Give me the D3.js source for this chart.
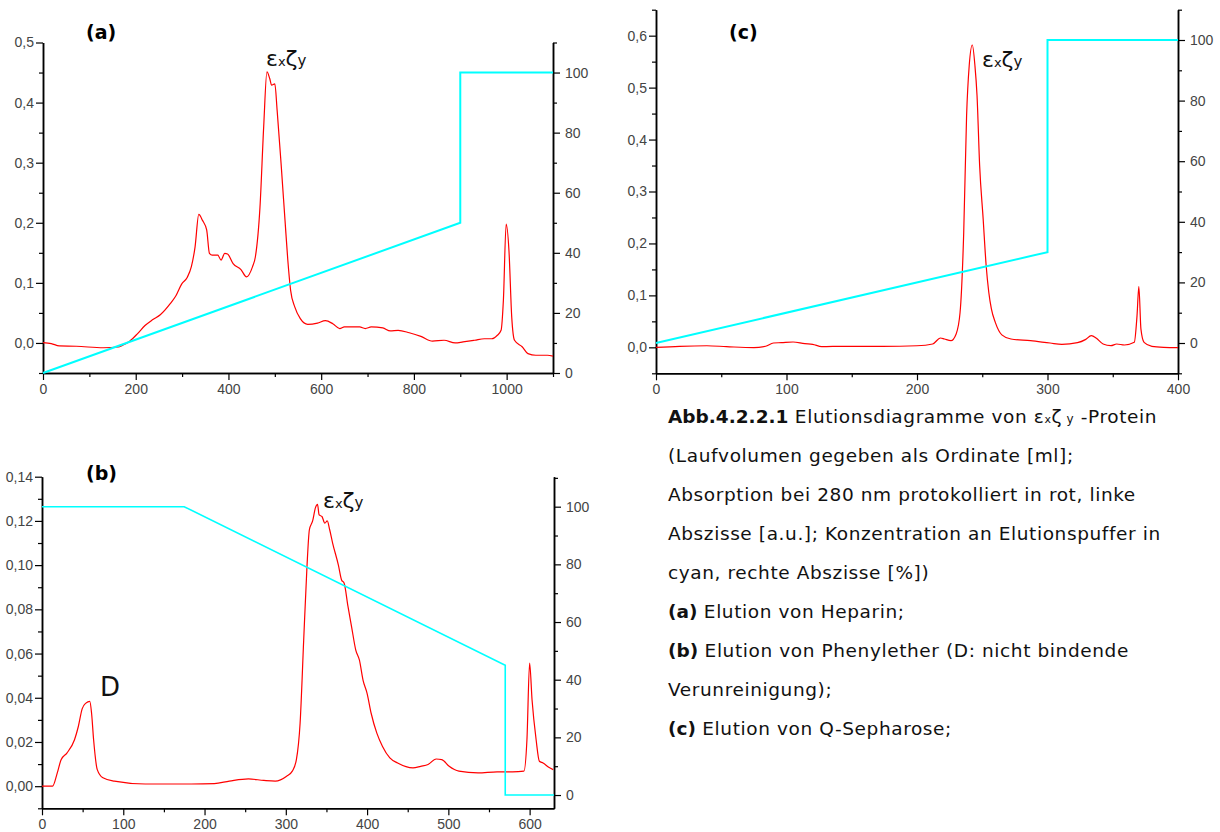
<!DOCTYPE html>
<html>
<head>
<meta charset="utf-8">
<script src="https://cdn.jsdelivr.net/npm/d3@7"></script>
<style>
  body { margin: 0; background: #fff; }
  svg { font-family: "DejaVu Sans", sans-serif; }
  .tick text { fill: #444; font-size: 14px; font-family: "Liberation Sans", sans-serif; }
  .domain { stroke: #000; stroke-width: 1.5; }
  .tick line { stroke: #000; stroke-width: 1.2; }
</style>
</head>
<body>
<svg width="1220" height="832"></svg>
<script>
// (a) Heparin
const aVol = [0, 18, 35, 72, 130, 163, 171, 187, 204, 220, 237, 253, 274, 287, 299, 311, 320, 328, 336, 344, 353, 359, 365, 377, 384, 392, 398, 410, 427, 439, 452, 458, 468, 476, 483, 489, 493, 500, 505, 514, 522, 528, 534, 543, 555, 571, 592, 609, 625, 640, 650, 683, 695, 708, 733, 749, 766, 790, 815, 840, 865, 889, 906, 931, 952, 968, 980, 988, 993, 999, 1005, 1011, 1017, 1034, 1046, 1063, 1088, 1100];
const aAbs = [0.0005, -0.001, -0.005, -0.0055, -0.008, -0.0067, -0.004, 0.003, 0.0155, 0.029, 0.039, 0.047, 0.065, 0.079, 0.098, 0.109, 0.127, 0.16, 0.214, 0.204, 0.188, 0.149, 0.146, 0.146, 0.138, 0.149, 0.148, 0.132, 0.122, 0.110, 0.127, 0.143, 0.226, 0.36, 0.451, 0.44, 0.429, 0.431, 0.387, 0.293, 0.204, 0.138, 0.088, 0.06, 0.0405, 0.031, 0.033, 0.037, 0.032, 0.024, 0.0266, 0.0266, 0.024, 0.0266, 0.025, 0.02, 0.021, 0.017, 0.011, 0.003, 0.0045, 0, 0.0017, 0.0045, 0.007, 0.007, 0.0128, 0.021, 0.071, 0.198, 0.154, 0.043, 0.0044, -0.0067, -0.0178, -0.0205, -0.0205, -0.022];
const aGradVol = [0, 900, 900, 1100];
const aGradPct = [0, 50, 100, 100];

// (b) Phenylether
const bVol = [0, 13, 18.8, 23.5, 30.6, 40, 44.7, 49.4, 54, 58.8, 61, 63.5, 68, 75, 89, 127, 183.5, 212, 230.6, 254, 273, 287, 301, 308, 313, 317.6, 322, 326, 329, 333, 336.5, 339, 341, 344.5, 348, 351, 354, 357.6, 364.7, 368.6, 371.8, 376.5, 381, 386, 390.6, 395, 400, 405, 412, 419, 428, 437.6, 456.5, 466, 475, 485, 492, 501, 513, 536.5, 560, 579, 593, 596.7, 600, 603, 608, 612, 616.5, 623.5, 629];
const bAbs = [0, 0, 0.006, 0.012, 0.015, 0.021, 0.027, 0.035, 0.0376, 0.0384, 0.033, 0.021, 0.0075, 0.0038, 0.0023, 0.001, 0.001, 0.0012, 0.0023, 0.0033, 0.0026, 0.0023, 0.0045, 0.0068, 0.012, 0.0286, 0.066, 0.099, 0.116, 0.12, 0.126, 0.1275, 0.1227, 0.122, 0.119, 0.120, 0.116, 0.110, 0.100, 0.0933, 0.0918, 0.0813, 0.072, 0.0617, 0.057, 0.048, 0.042, 0.033, 0.024, 0.018, 0.0128, 0.0105, 0.0083, 0.009, 0.0098, 0.0123, 0.012, 0.009, 0.0068, 0.006, 0.0065, 0.0065, 0.0068, 0.021, 0.0557, 0.039, 0.021, 0.0113, 0.0105, 0.0086, 0.0075];
const bGradVol = [0, 175, 570, 570, 630];
const bGradPct = [100, 100, 45, 0, 0];

// (c) Q-Sepharose
const cVol = [0, 18, 39, 54, 75, 84, 90, 96, 105, 114, 120, 127, 144, 173.5, 200, 212, 218, 221, 226, 230, 233, 235.8, 238, 240, 242.4, 244.4, 246, 248, 250.7, 253, 255, 257, 260, 265, 272, 287, 302, 311, 323, 329, 333.6, 337.5, 342.6, 348.6, 353, 359, 366.5, 368.6, 370, 371.6, 374, 380, 389, 400];
const cAbs = [0, 0.002, 0.003, 0.0013, -0.0006, 0.002, 0.0083, 0.009, 0.0103, 0.007, 0.0058, 0.0013, 0.002, 0.002, 0.003, 0.0064, 0.018, 0.016, 0.0128, 0.0257, 0.067, 0.221, 0.446, 0.542, 0.582, 0.542, 0.485, 0.35, 0.247, 0.157, 0.106, 0.074, 0.048, 0.024, 0.016, 0.0128, 0.0083, 0.0058, 0.009, 0.0148, 0.0225, 0.0173, 0.0064, 0.0032, 0.0064, 0.0045, 0.0096, 0.061, 0.117, 0.035, 0.0096, 0.002, 0, -0.0006];
const cGradVol = [0, 300, 300, 400];
const cGradPct = [0, 30, 100, 100];

const svg = d3.select("svg");
const comma = d3.formatLocale({decimal: ",", thousands: ".", grouping: [3], currency: ["", ""]});

// major ticks with labels, minor ticks shorter and unlabelled
function ticks2(axisFn, scale, start, stop, minorStep, majorStep, fmt, pad) {
    let all = d3.range(start, stop + 1e-9, minorStep);
    let major = all.filter(function (v) { return Math.abs(v / majorStep - Math.round(v / majorStep)) < 1e-6; });
    let minor = all.filter(function (v) { return major.indexOf(v) < 0; });
    return function (sel) {
        sel.call(axisFn(scale).tickValues(minor).tickSize(4).tickSizeOuter(0).tickFormat(""));
        sel.append("g").call(axisFn(scale).tickValues(major).tickSize(7).tickSizeOuter(0)
            .tickPadding(pad).tickFormat(fmt));
    };
}

function drawPanel(p) {
    let x = d3.scaleLinear().domain(p.xDomain).range([p.left, p.right]);
    let yL = d3.scaleLinear().domain(p.yLeft).range([p.bottom, p.top]);
    let yR = d3.scaleLinear().domain(p.yRight).range([p.bottom, p.top]);
    let g = svg.append("g");

    g.append("g")
        .attr("transform", "translate(" + p.left + ",0)")
        .call(ticks2(d3.axisLeft, yL, p.yLeft[0], p.yLeft[1], p.leftStep, p.leftMajor, comma.format(p.leftFmt), 2));

    g.append("g")
        .attr("transform", "translate(" + p.right + ",0)")
        .call(ticks2(d3.axisRight, yR, p.rightTicks[0], p.rightTicks[1], 10, 20, d3.format("d"), 5));

    g.append("g")
        .attr("transform", "translate(0," + p.bottom + ")")
        .call(ticks2(d3.axisBottom, x, p.xDomain[0], p.xDomain[1], p.xMinor, p.xMajor, d3.format("d"), 4));

    let redLine = d3.line()
        .x(function (d, i) { return x(p.vol[i]); })
        .y(function (d) { return yL(d); })
        .curve(d3.curveMonotoneX);

    g.append("path")
        .attr("d", redLine(p.abs))
        .attr("fill", "none")
        .attr("stroke", "#ff0000")
        .attr("stroke-width", 1.2);

    let cyanLine = d3.line()
        .x(function (d, i) { return x(p.gradVol[i]); })
        .y(function (d) { return yR(d); });

    g.append("path")
        .attr("d", cyanLine(p.gradPct))
        .attr("fill", "none")
        .attr("stroke", "#00ffff")
        .attr("stroke-width", p.cyanWidth);

    g.append("text")
        .attr("x", p.tag[0]).attr("y", p.tag[1])
        .attr("font-size", 19).attr("font-weight", "bold")
        .text(p.tagText);

    let lab = g.append("text")
        .attr("x", p.peak[0]).attr("y", p.peak[1])
        .attr("fill", "#111");
    lab.append("tspan").attr("font-size", 22).text("ε");
    lab.append("tspan").attr("font-size", 13).text("x");
    lab.append("tspan").attr("font-size", 22).text("ζ");
    lab.append("tspan").attr("font-size", 15).text("y");
    return g;
}

drawPanel({
    left: 43, right: 553, top: 42.5, bottom: 373,
    xDomain: [0, 1100], xMinor: 100, xMajor: 200,
    yLeft: [-0.05, 0.5], leftStep: 0.05, leftMajor: 0.1, leftFmt: ".1f",
    yRight: [0, 110], rightTicks: [0, 110],
    vol: aVol, abs: aAbs, gradVol: aGradVol, gradPct: aGradPct, cyanWidth: 2,
    tag: [86, 39], tagText: "(a)", peak: [266, 66]
});

let pb = drawPanel({
    left: 42, right: 554, top: 476.7, bottom: 808.3,
    xDomain: [0, 630], xMinor: 50, xMajor: 100,
    yLeft: [-0.01, 0.14], leftStep: 0.01, leftMajor: 0.02, leftFmt: ".2f",
    yRight: [-4.6, 110.4], rightTicks: [0, 110],
    vol: bVol, abs: bAbs, gradVol: bGradVol, gradPct: bGradPct, cyanWidth: 1.6,
    tag: [86, 480], tagText: "(b)", peak: [323, 508]
});
pb.append("text")
    .attr("x", 100).attr("y", 696)
    .attr("font-size", 26).attr("fill", "#111")
    .text("D");

drawPanel({
    left: 656, right: 1178, top: 9.7, bottom: 373.3,
    xDomain: [0, 400], xMinor: 50, xMajor: 100,
    yLeft: [-0.05, 0.65], leftStep: 0.05, leftMajor: 0.1, leftFmt: ".1f",
    yRight: [-10, 110], rightTicks: [-10, 110],
    vol: cVol, abs: cAbs, gradVol: cGradVol, gradPct: cGradPct, cyanWidth: 2,
    tag: [729, 39], tagText: "(c)", peak: [982, 67]
});

// caption
const capLines = [
    [["b", "Abb.4.2.2.1 "], ["n", "Elutionsdiagramme von "], ["eps", ""], ["n", " -Protein"]],
    [["n", "(Laufvolumen gegeben als Ordinate [ml];"]],
    [["n", "Absorption bei 280 nm protokolliert in rot, linke"]],
    [["n", "Abszisse [a.u.]; Konzentration an Elutionspuffer in"]],
    [["n", "cyan, rechte Abszisse [%])"]],
    [["b", "(a) "], ["n", "Elution von Heparin;"]],
    [["b", "(b) "], ["n", "Elution von Phenylether (D: nicht bindende"]],
    [["n", "Verunreinigung);"]],
    [["b", "(c) "], ["n", "Elution von Q-Sepharose;"]]
];

let cap = svg.append("g").attr("fill", "#111").attr("font-size", 18.5).attr("letter-spacing", 0.6);
capLines.forEach(function (parts, i) {
    let t = cap.append("text").attr("x", 668).attr("y", 423 + i * 39);
    parts.forEach(function (p) {
        if (p[0] === "eps") {
            t.append("tspan").text("ε");
            t.append("tspan").attr("font-size", 11).text("x");
            t.append("tspan").text("ζ");
            t.append("tspan").attr("font-size", 12).text(" y");
        } else {
            t.append("tspan").attr("font-weight", p[0] === "b" ? "bold" : null)
                .attr("letter-spacing", p[0] === "b" ? 0 : null).text(p[1]);
        }
    });
});
</script>
</body>
</html>
